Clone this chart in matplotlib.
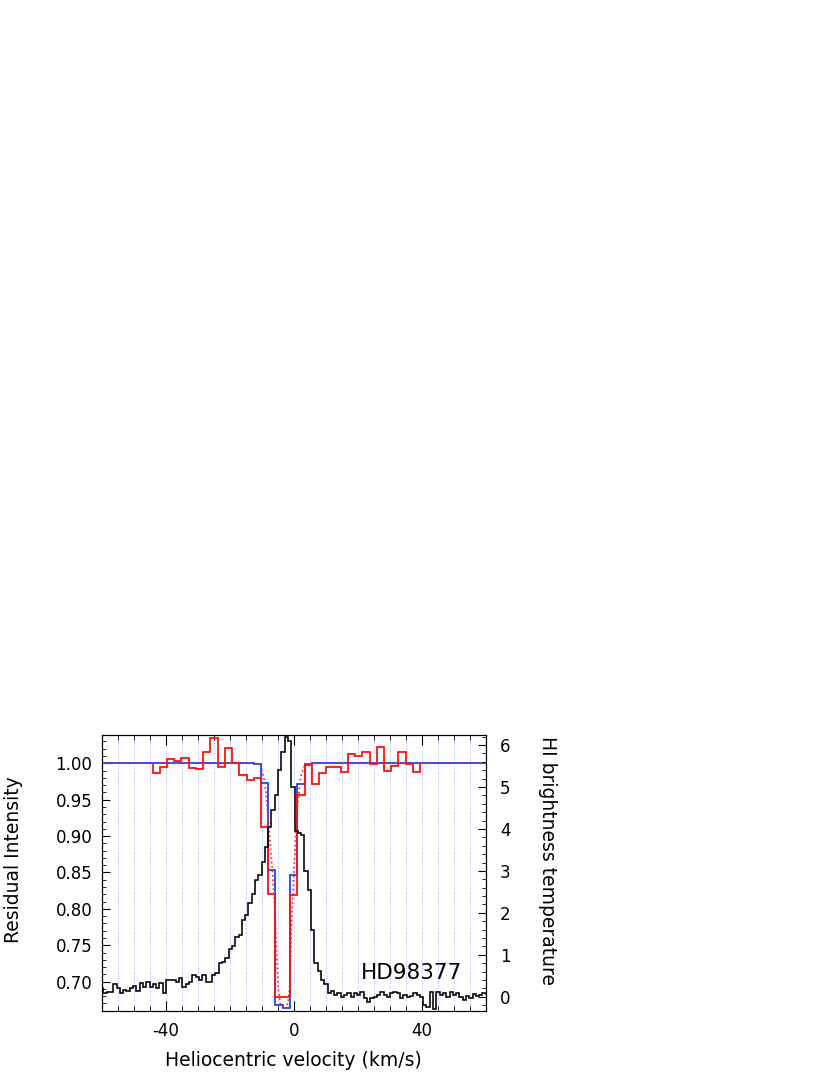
import matplotlib
matplotlib.use('Agg')
import matplotlib.pyplot as plt
from matplotlib.ticker import MultipleLocator, FormatStrFormatter
import numpy as np

plt.rcParams['axes.unicode_minus'] = False

# observed absorption (red histogram), bin edges in km/s and residual intensity
red_edges = [-44.2, -41.9, -39.7, -37.4, -35.2, -32.9, -30.6, -28.4, -26.1, -23.9,
             -21.6, -19.3, -17.1, -14.8, -12.6, -10.3, -8.0, -5.8, -3.5, -1.3,
             1.0, 3.3, 5.5, 7.8, 10.0, 12.3, 14.6, 16.8, 19.1, 21.3,
             23.6, 25.9, 28.1, 30.4, 32.6, 34.9, 37.2, 39.4]
red_vals = [0.986, 0.9945, 1.006, 1.0036, 1.0077, 0.993, 0.992, 1.015, 1.035, 0.995,
            1.0215, 1.000, 0.984, 0.977, 0.980, 0.913, 0.821, 0.679, 0.679, 0.819,
            0.957, 0.998, 0.971, 0.986, 0.9945, 0.9945, 0.9885, 1.0124, 1.010, 1.015,
            0.9986, 1.0228, 0.9894, 0.9967, 1.015, 0.9986, 0.9876]

# binned model (blue histogram), same bins
blue_vals = [1.0, 1.0, 1.0, 1.0, 1.0, 1.0, 1.0, 1.0, 1.0, 1.0,
             1.0, 1.0, 1.0, 1.0, 0.999, 0.9725, 0.854, 0.668, 0.664, 0.847,
             0.971, 0.999, 1.0, 1.0, 1.0, 1.0, 1.0, 1.0, 1.0, 1.0,
             1.0, 1.0, 1.0, 1.0, 1.0, 1.0, 1.0]

# unbinned model (red dotted)
model_v = [-60, -12, -11, -10.3, -9.5, -8.75, -8.2, -7.7, -7.2, -6.8, -6.0, -5.4,
           -4.9, -4.3, -3.3, -2.3, -1.8, -1.4, -0.8, 0.0, 0.5, 1.0, 1.6, 2.1, 3.1, 4.7, 60]
model_i = [1.0, 1.0, 0.999, 0.995, 0.982, 0.959, 0.931, 0.904, 0.876, 0.855, 0.80, 0.735,
           0.69, 0.670, 0.662, 0.665, 0.675, 0.69, 0.775, 0.856, 0.895, 0.936, 0.963, 0.982, 0.995, 1.0, 1.0]

# HI emission (black), channels starting at HI_V0 with width HI_DV
HI_V0 = -60.6
HI_DV = 1.03
hi_t = [0.20, 0.10, 0.12, 0.12, 0.30, 0.22, 0.10, 0.16, 0.14, 0.22,
        0.25, 0.14, 0.32, 0.24, 0.36, 0.24, 0.30, 0.20, 0.32, 0.08,
        0.41, 0.41, 0.40, 0.36, 0.44, 0.24, 0.30, 0.36, 0.52, 0.48,
        0.40, 0.52, 0.36, 0.35, 0.52, 0.56, 0.81, 0.84, 0.92, 1.15,
        1.20, 1.42, 1.47, 1.84, 1.95, 2.23, 2.46, 2.78, 2.90, 3.22,
        3.58, 4.05, 4.45, 4.81, 5.40, 5.84, 6.18, 6.10, 5.00, 3.95,
        3.90, 3.85, 3.00, 2.54, 1.59, 0.80, 0.62, 0.40, 0.30, 0.10,
        0.14, 0.04, 0.08, 0.00, 0.04, 0.08, 0.00, 0.08, 0.04, 0.12,
        -0.04, -0.12, -0.04, 0.00, 0.04, 0.12, 0.04, 0.00, 0.08, 0.12,
        0.08, -0.04, 0.04, 0.00, 0.02, 0.10, 0.04, 0.00, -0.20, -0.24,
        0.12, -0.28, 0.12, 0.04, 0.08, 0.00, 0.12, 0.04, 0.08, 0.00,
        -0.08, 0.02, -0.04, 0.06, 0.02, 0.04, 0.08, 0.06]

star = "HD98377"

fig = plt.figure(figsize=(8.3, 10.75), dpi=100)
ax = fig.add_axes([0.1229, 0.0595, 0.4627, 0.2568])
ax.set_xlim(-60, 60)
ax.set_ylim(0.6596, 1.0389)

ax.xaxis.set_major_locator(MultipleLocator(40))
ax.xaxis.set_minor_locator(MultipleLocator(5))
ax.yaxis.set_major_locator(MultipleLocator(0.05))
ax.yaxis.set_minor_locator(MultipleLocator(0.01))
ax.yaxis.set_major_formatter(FormatStrFormatter('%.2f'))
ax.grid(True, which='both', axis='x', color='#9090ff', lw=0.6, ls=(0, (1, 2)))
ax.set_axisbelow(True)

blue_edges = [-60] + red_edges + [60]
ax.stairs([1.0] + blue_vals + [1.0], blue_edges, baseline=None, color='#1048ff', lw=1.3, zorder=3)
ax.plot(model_v, model_i, color='#ff2020', lw=1.2, ls=':', zorder=4)
ax.stairs(red_vals, red_edges, baseline=1.0, color='#ff1010', lw=1.3, zorder=5)

ax.tick_params(axis='both', which='both', direction='in', top=True, right=False, labelsize=12)
ax.tick_params(axis='x', which='major', length=7, pad=8)
ax.tick_params(axis='x', which='minor', length=3.5)
ax.tick_params(axis='y', which='major', length=6, pad=7)
ax.tick_params(axis='y', which='minor', length=3)

ax2 = ax.twinx()
ax2.set_ylim(-0.34, 6.24)
hi_edges = HI_V0 + HI_DV * np.arange(len(hi_t) + 1)
ax2.stairs(hi_t, hi_edges, baseline=None, color='black', lw=1.15, zorder=6)
ax2.yaxis.set_major_locator(MultipleLocator(1))
ax2.yaxis.set_minor_locator(MultipleLocator(0.2))
ax2.tick_params(axis='y', which='both', direction='in', labelsize=12)
ax2.tick_params(axis='y', which='major', length=6, pad=10)
ax2.tick_params(axis='y', which='minor', length=3)

ax.text(0.9375, 0.138, star, transform=ax.transAxes, ha='right', va='center', fontsize=15.5)

fig.text(293 / 830, 1 - 1060 / 1075, 'Heliocentric velocity (km/s)', ha='center', va='center', fontsize=13.5)
fig.text(14 / 830, 1 - 860 / 1075, 'Residual Intensity', rotation=90, ha='center', va='center', fontsize=13.5)
fig.text(548 / 830, 1 - 860 / 1075, 'HI brightness temperature', rotation=-90, ha='center', va='center', fontsize=13.5)

fig.savefig('out.png', dpi=100)
